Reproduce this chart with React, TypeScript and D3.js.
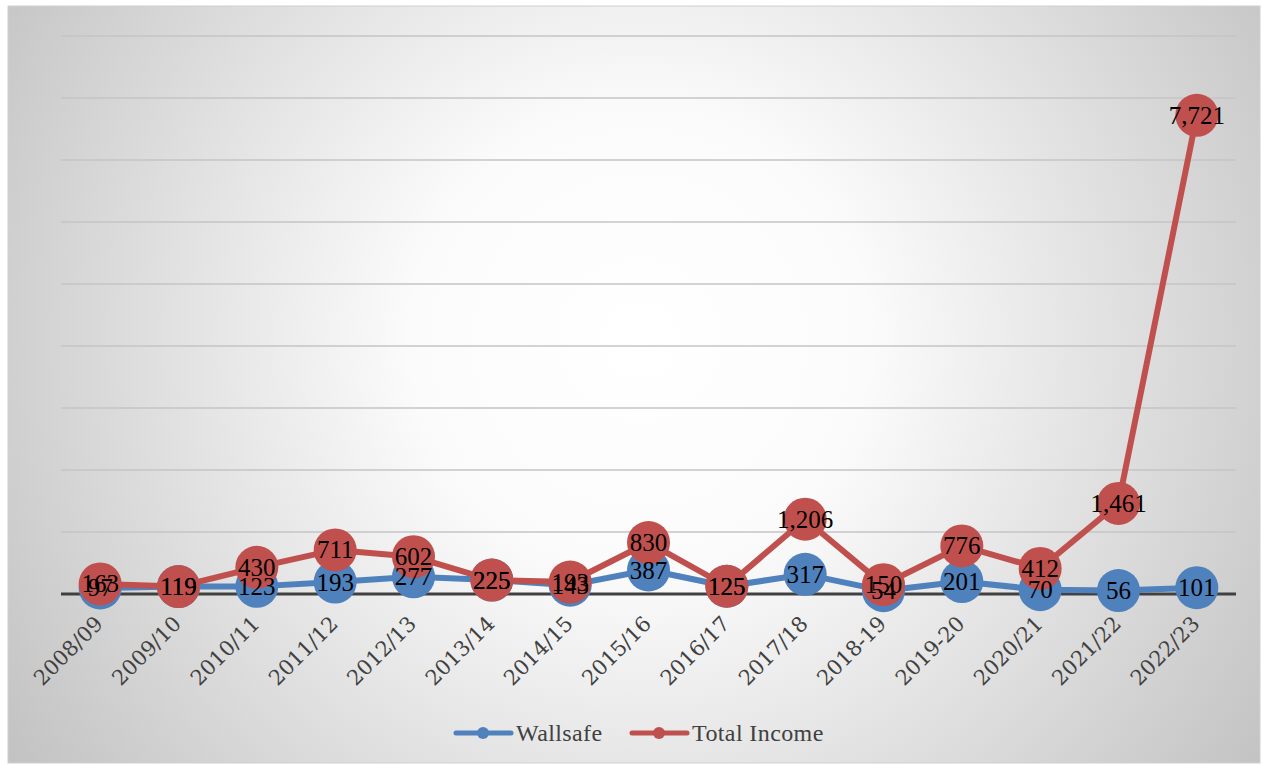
import { useEffect, useRef } from 'react';
import * as d3 from 'd3';

const years = ['2008/09', '2009/10', '2010/11', '2011/12', '2012/13', '2013/14', '2014/15', '2015/16', '2016/17', '2017/18', '2018-19', '2019-20', '2020/21', '2021/22', '2022/23'];
const wallsafe = [97, 119, 123, 193, 277, 225, 143, 387, 125, 317, 54, 201, 70, 56, 101];
const totalIncome = [163, 119, 430, 711, 602, 225, 193, 830, 125, 1206, 150, 776, 412, 1461, 7721];
const yTicks = [0, 1000, 2000, 3000, 4000, 5000, 6000, 7000, 8000, 9000];

const W = 1262;
const H = 765;
const FONT = '"Liberation Serif", "DejaVu Serif", serif';
const AXIS_FONT = '"DejaVu Serif", serif';

export default function App() {
  const svgRef = useRef<SVGSVGElement>(null);

  useEffect(() => {
    if (!svgRef.current) return;
    const svg = d3.select(svgRef.current);
    svg.selectAll('*').remove();

    const defs = svg.append('defs');
    const grad = defs.append('radialGradient').attr('id', 'bg')
      .attr('gradientUnits', 'userSpaceOnUse')
      .attr('cx', 640).attr('cy', 340).attr('r', 760);
    grad.append('stop').attr('offset', 0).attr('stop-color', '#ffffff');
    grad.append('stop').attr('offset', 0.3).attr('stop-color', '#fbfbfb');
    grad.append('stop').attr('offset', 1).attr('stop-color', '#c2c2c2');

    svg.append('rect').attr('x', 8).attr('y', 6).attr('width', 1252).attr('height', 757)
      .attr('fill', 'url(#bg)').attr('stroke', '#d0d0d0').attr('stroke-width', 1);

    const x = d3.scaleBand<string>().domain(years).range([61, 1236]);
    const y = d3.scaleLinear().domain([0, 9000]).range([594, 36]);
    const cx = (i: number) => (x(years[i]) ?? 0) + x.bandwidth() / 2;

    // gridlines
    svg.append('g').selectAll('line')
      .data(yTicks.slice(1))
      .join('line')
      .attr('x1', 61).attr('x2', 1236)
      .attr('y1', (d) => y(d)).attr('y2', (d) => y(d))
      .attr('stroke', '#c4c4c4').attr('stroke-width', 1.5);

    // baseline
    svg.append('line').attr('x1', 61).attr('x2', 1236).attr('y1', y(0)).attr('y2', y(0))
      .attr('stroke', '#404040').attr('stroke-width', 3);

    // x labels
    svg.append('g').selectAll('text')
      .data(years)
      .join('text')
      .attr('transform', (_, i) => `translate(${cx(i) + 4},${y(0) + 31}) rotate(-45)`)
      .attr('text-anchor', 'end')
      .attr('font-family', AXIS_FONT).attr('font-size', 21).attr('fill', '#404040')
      .text((d) => d);

    const series = [
      { name: 'Wallsafe', values: wallsafe, color: '#4f81bd' },
      { name: 'Total Income', values: totalIncome, color: '#c0504d' },
    ];

    const line = d3.line<number>().x((_, i) => cx(i)).y((d) => y(d));

    series.forEach((s) => {
      const g = svg.append('g');
      g.append('path').attr('d', line(s.values)).attr('fill', 'none')
        .attr('stroke', s.color).attr('stroke-width', 6).attr('stroke-linejoin', 'round');
      g.selectAll('circle').data(s.values).join('circle')
        .attr('cx', (_, i) => cx(i)).attr('cy', (d) => y(d)).attr('r', 21.5)
        .attr('fill', s.color);
    });

    series.forEach((s) => {
      svg.append('g').selectAll('text').data(s.values).join('text')
        .attr('x', (_, i) => cx(i)).attr('y', (d) => y(d) + 8.5)
        .attr('text-anchor', 'middle')
        .attr('font-family', FONT).attr('font-size', 25).attr('fill', '#000')
        .text((d) => d3.format(',')(d));
    });

    // legend
    const leg = svg.append('g');
    const items = [
      { name: 'Wallsafe', color: '#4f81bd', x: 456 },
      { name: 'Total Income', color: '#c0504d', x: 632 },
    ];
    items.forEach((it) => {
      leg.append('line').attr('x1', it.x).attr('x2', it.x + 55).attr('y1', 733).attr('y2', 733)
        .attr('stroke', it.color).attr('stroke-width', 5).attr('stroke-linecap', 'round');
      leg.append('circle').attr('cx', it.x + 27).attr('cy', 733).attr('r', 6).attr('fill', it.color);
      leg.append('text').attr('x', it.x + 60).attr('y', 741)
        .attr('font-family', FONT).attr('font-size', 24).attr('letter-spacing', 0.4).attr('fill', '#404040')
        .text(it.name);
    });
  }, []);

  return (
    <svg ref={svgRef} width={W} height={H}
      style={{ position: 'absolute', left: 0, top: 0, display: 'block' }} />
  );
}
